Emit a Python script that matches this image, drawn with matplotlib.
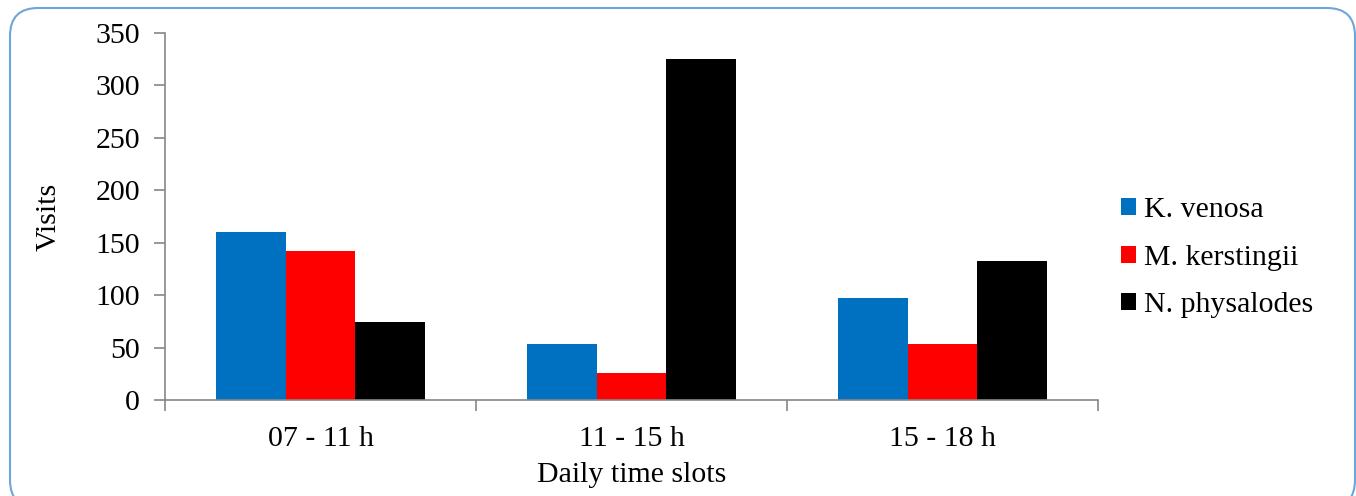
import matplotlib
matplotlib.use("Agg")
import matplotlib.pyplot as plt
from matplotlib.patches import FancyBboxPatch
import numpy as np

# data
slots = ["07 - 11 h", "11 - 15 h", "15 - 18 h"]
species = ["K. venosa", "M. kerstingii", "N. physalodes"]
k_venosa = [160, 53, 97]
m_kerstingii = [142, 26, 53]
n_physalodes = [74, 325, 133]
colors = ["#0070c0", "#ff0000", "#000000"]

plt.rcParams["font.family"] = ["Liberation Serif", "DejaVu Serif"]
plt.rcParams["font.size"] = 21.5

fig = plt.figure(figsize=(13.56, 4.96), dpi=100)

# rounded frame around the chart, drawn in pixel coords
bg = fig.add_axes([0, 0, 1, 1])
bg.set_xlim(0, 1356)
bg.set_ylim(496, 0)
bg.axis("off")
bg.add_patch(FancyBboxPatch((10, 8), 1345, 500, boxstyle="round,pad=0,rounding_size=28",
                            fc="white", ec="#6fa5dc", lw=1.5))

ax = fig.add_axes([165 / 1356, 96 / 496, 933 / 1356, 367 / 496])
ax.patch.set_alpha(0)

x = np.arange(len(slots))
w = 1 / 4.47
series = [k_venosa, m_kerstingii, n_physalodes]
for i, (vals, name, c) in enumerate(zip(series, species, colors)):
    ax.bar(x + (i - 1) * w, vals, w, color=c, label=name, zorder=2)

ax.set_xlim(-0.5, 2.5)
ax.set_ylim(0, 350)
ax.set_yticks(range(0, 351, 50))
ax.set_xticks(x)
ax.set_xticklabels(slots)
ax.set_xticks([-0.5, 0.5, 1.5, 2.5], minor=True)
ax.tick_params(axis="x", which="major", length=0, pad=19)
ax.tick_params(axis="x", which="minor", length=8, color="#868686", width=1.2)
ax.tick_params(axis="y", length=8, color="#868686", width=1.2, pad=10)

for s in ["top", "right"]:
    ax.spines[s].set_visible(False)
for s in ["left", "bottom"]:
    ax.spines[s].set_color("#868686")
    ax.spines[s].set_linewidth(1.2)

ax.set_xlabel("Daily time slots", labelpad=7)
ax.set_ylabel("Visits", labelpad=24)

ax.legend(loc="center left", bbox_to_anchor=(0.996, 0.387), frameon=False,
          handlelength=0.5, handleheight=0.5, handletextpad=0.25, labelspacing=0.72)

fig.savefig("out.png", dpi=100)
